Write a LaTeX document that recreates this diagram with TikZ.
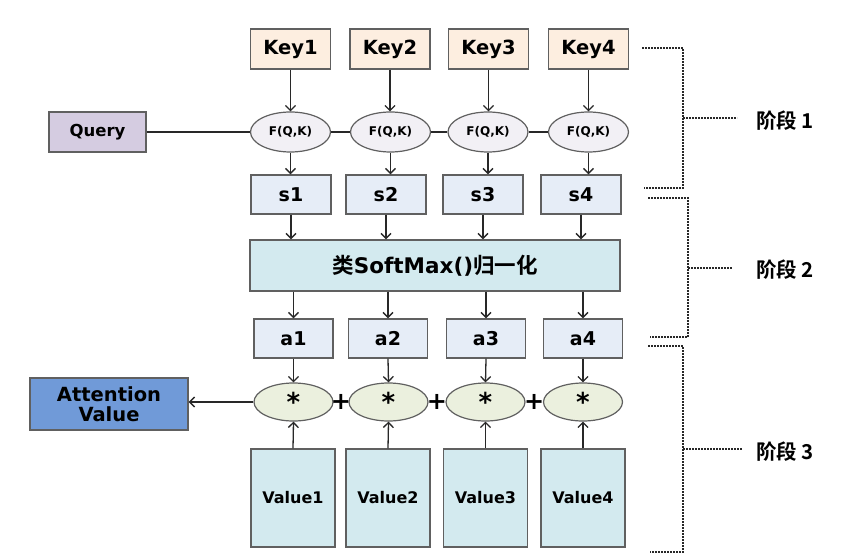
\documentclass[tikz,border=0pt]{standalone}
\usepackage{fontspec}
\setmainfont{DejaVu Sans}
\newfontfamily\cjk{Noto Sans CJK SC}[BoldFont={Noto Sans CJK SC Bold}]
\usetikzlibrary{arrows.meta,shapes.geometric}
\definecolor{keyfill}{RGB}{253,238,224}
\definecolor{queryfill}{RGB}{213,204,225}
\definecolor{fqkfill}{RGB}{242,240,245}
\definecolor{scorefill}{RGB}{230,237,247}
\definecolor{softfill}{RGB}{211,234,239}
\definecolor{mulfill}{RGB}{235,240,222}
\definecolor{attfill}{RGB}{112,154,216}
\definecolor{edge}{RGB}{96,96,96}
\definecolor{wire}{RGB}{40,40,40}
\tikzstyle{keybox}=[draw=edge, line width=1.4pt, fill=keyfill, minimum width=80pt,
    minimum height=40pt, font=\fontsize{19.5}{22}\selectfont\bfseries]
\tikzstyle{querybox}=[draw=edge, line width=1.4pt, fill=queryfill, minimum width=97pt,
    minimum height=40pt, font=\fontsize{16.5}{19}\selectfont\bfseries]
\tikzstyle{fqk}=[ellipse, draw=edge, line width=1.2pt, fill=fqkfill, minimum width=80pt,
    minimum height=40pt, inner sep=0pt, font=\fontsize{12}{14}\selectfont\bfseries]
\tikzstyle{scorebox}=[draw=edge, line width=1.4pt, fill=scorefill, minimum width=80pt,
    minimum height=39pt, font=\fontsize{19}{22}\selectfont\bfseries]
\tikzstyle{softbox}=[draw=edge, line width=1.4pt, fill=softfill, minimum width=370pt,
    minimum height=51pt, font=\fontsize{21.5}{24}\selectfont\bfseries]
\tikzstyle{mulnode}=[ellipse, draw=edge, line width=1.2pt, fill=mulfill, minimum width=79pt,
    minimum height=38pt, inner sep=0pt, font=\fontsize{26}{26}\selectfont\bfseries]
\tikzstyle{attbox}=[draw=edge, line width=1.4pt, fill=attfill, minimum width=158pt,
    minimum height=52pt, align=center, font=\fontsize{19.5}{20}\selectfont\bfseries]
\tikzstyle{valbox}=[draw=edge, line width=1.4pt, fill=softfill, minimum width=84pt,
    minimum height=98pt, font=\fontsize{16}{18}\selectfont\bfseries]
\tikzstyle{plus}=[inner sep=0pt, font=\fontsize{24}{24}\selectfont\bfseries]
\tikzstyle{stage}=[font=\fontsize{20.5}{22}\selectfont\cjk\bfseries]
\tikzstyle{bracket}=[draw=wire, line width=1.3pt, dash pattern=on 1.6pt off 1.4pt]

\begin{document}
\begin{tikzpicture}[x=1pt,y=-1pt,>={Straight Barb[length=5pt,width=10pt]}]
    \useasboundingbox (0,0) rectangle (856,556);
    \node (key1) [keybox] at (290.5,49) {Key1};
    \path (key1)+(99.5,0) node (key2) [keybox] {Key2};
    \path (key1)+(198,0) node (key3) [keybox] {Key3};
    \path (key1)+(298,0) node (key4) [keybox] {Key4};
    \path (key1)+(0,83) node (f1) [fqk] {F(Q,K)};
    \path (key1)+(100,83) node (f2) [fqk] {F(Q,K)};
    \path (key1)+(197.5,83) node (f3) [fqk] {F(Q,K)};
    \path (key1)+(298,83) node (f4) [fqk] {F(Q,K)};
    \path (key1)+(-193,83) node (query) [querybox] {Query};
    \path (key1)+(0.5,145.5) node (s1) [scorebox] {s1};
    \path (key1)+(95.5,145.5) node (s2) [scorebox] {s2};
    \path (key1)+(192.5,145.5) node (s3) [scorebox] {s3};
    \path (key1)+(290.5,145.5) node (s4) [scorebox] {s4};
    \path (key1)+(144.5,216.5) node (soft) [softbox]
    {{\cjk 类}SoftMax(){\cjk 归一化}};
    \path (key1)+(3,289.5) node (a1) [scorebox, minimum width=79pt] {a1};
    \path (key1)+(97.5,289.5) node (a2) [scorebox, minimum width=79pt] {a2};
    \path (key1)+(195.5,289.5) node (a3) [scorebox, minimum width=79pt] {a3};
    \path (key1)+(292.5,289.5) node (a4) [scorebox, minimum width=79pt] {a4};
    \path (key1)+(3,353) node (m1) [mulnode] {*};
    \path (key1)+(98,353) node (m2) [mulnode] {*};
    \path (key1)+(195,353) node (m3) [mulnode] {*};
    \path (key1)+(292.5,353) node (m4) [mulnode] {*};
    \path (key1)+(-181.5,355) node (att) [attbox] {Attention\\Value};
    \path (key1)+(2.5,449) node (v1) [valbox] {Value1};
    \path (key1)+(97.5,449) node (v2) [valbox] {Value2};
    \path (key1)+(195,449) node (v3) [valbox] {Value3};
    \path (key1)+(292.5,449) node (v4) [valbox] {Value4};
    % query feeds every F(Q,K)
    \draw [wire, line width=1.3pt] (query.east) -- (f1.west);
    \foreach \i/\j in {1/2,2/3,3/4}
      \draw [wire, line width=1.3pt] (f\i.east) -- (f\j.west);
    \foreach \i in {1,...,4} {
      \path [draw=wire, line width=1.3pt, ->] (key\i.south) -- (key\i.south |- f\i.north);
      \path [draw=wire, line width=1.3pt, ->] (f\i.south) -- (f\i.south |- s\i.north);
      \path [draw=wire, line width=1.3pt, ->] (s\i.south) -- (s\i.south |- soft.north);
      \path [draw=wire, line width=1.3pt, ->] (a\i.north |- soft.south) -- (a\i.north);
      \path [draw=wire, line width=1.3pt, ->] (a\i.south) -- (m\i.north);
      \path [draw=wire, line width=1.3pt, ->] (v\i.north) -- (m\i.south);
    }
    \foreach \i/\j in {1/2,2/3,3/4}
      \path (m\i.east) -- node [plus] {+} (m\j.west);
    \path [draw=wire, line width=1.3pt, ->] (m1.west) -- (att.east |- m1.west);
    % stages
    \path [bracket] (642,48) -- (683,48) -- (683,188) -- (644,188);
    \path [bracket] (683,118) -- (737,118);
    \node [stage] at (785,121) {阶段 1};
    \path [bracket] (648,198) -- (688,198) -- (688,337) -- (650,337);
    \path [bracket] (688,268) -- (732,268);
    \node [stage] at (785,270) {阶段 2};
    \path [bracket] (648,346) -- (683,346) -- (683,552) -- (650,552);
    \path [bracket] (683,449) -- (742,449);
    \node [stage] at (785,452) {阶段 3};
\end{tikzpicture}
\end{document}
